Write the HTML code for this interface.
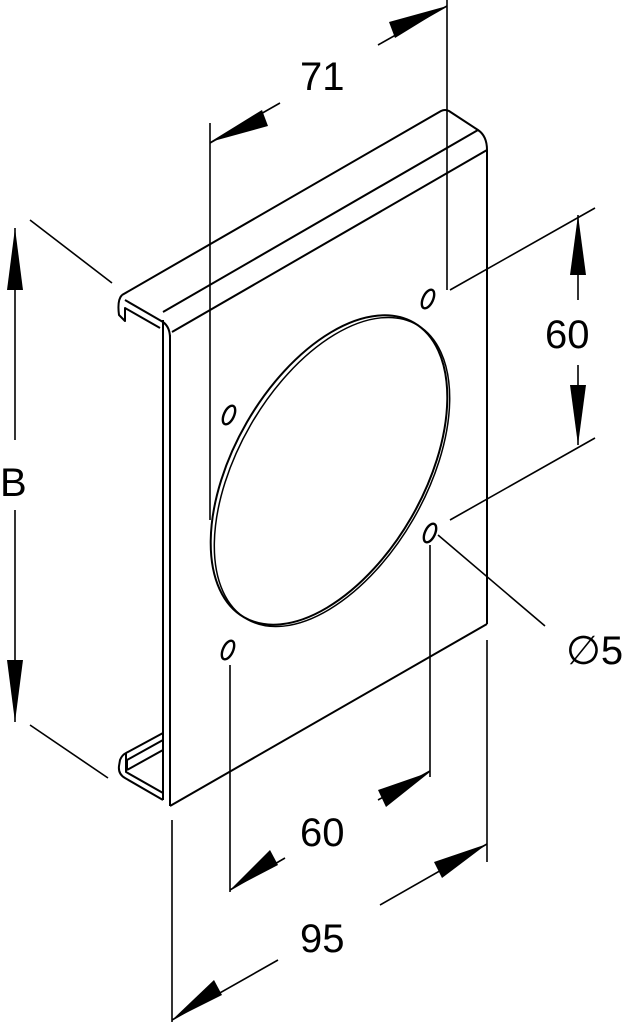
<!DOCTYPE html>
<html><head><meta charset="utf-8"><style>
html,body{margin:0;padding:0;background:#fff;}
svg{display:block}
text{font-family:"Liberation Sans",sans-serif;font-size:40px;fill:#000}
</style></head><body>
<svg width="638" height="1028" viewBox="0 0 638 1028" xmlns="http://www.w3.org/2000/svg">
<g fill="none" stroke="#000" stroke-width="2" stroke-linejoin="round">
<path d="M122,295 L441,111 Q445,109 449,111 L478,130 Q487,136 487,150"/>
<path d="M125,300 L163,322 Q170,327 170,338"/>
<path d="M163,312 L478,130"/>
<path d="M172,332 L487,150"/>
<path d="M122,295 Q117,300 119,315 L125,321 L125,308 L160,328"/>
<path d="M163,320 L163,800"/>
<path d="M170,335 L170,806"/>
<path d="M487,150 L487,624"/>
<path d="M170,806 L487,624"/>
<path d="M163,800 L125,778 Q118,774 119,766 L120,760 Q122,755 126,753 L163,733"/>
<path d="M127,770 L127,760 L163,740"/>
<path d="M127,770 L163,750"/>
<path d="M126,753 L126,772 L163,793"/>
<ellipse cx="329" cy="470" rx="170" ry="95" transform="rotate(-60 329 470)"/>
<ellipse cx="332" cy="472" rx="170" ry="94" transform="rotate(-60 332 472)" stroke-width="1.5"/>
<ellipse cx="229" cy="415" rx="5" ry="10" transform="rotate(25 229 415)" stroke-width="2.4"/>
<ellipse cx="428" cy="299" rx="5" ry="10" transform="rotate(25 428 299)" stroke-width="2.4"/>
<ellipse cx="430" cy="533" rx="5" ry="10" transform="rotate(25 430 533)" stroke-width="2.4"/>
<ellipse cx="228" cy="650" rx="5" ry="10" transform="rotate(25 228 650)" stroke-width="2.4"/>
</g>
<g fill="none" stroke="#000" stroke-width="1.6">
<line x1="210" y1="123" x2="210" y2="520"/>
<line x1="447" y1="0" x2="447" y2="290"/>
<line x1="210" y1="143" x2="280" y2="103"/>
<line x1="378" y1="45" x2="447" y2="6"/>
<line x1="30" y1="220" x2="112" y2="283"/>
<line x1="30" y1="725" x2="108" y2="778"/>
<line x1="15" y1="228" x2="15" y2="440"/>
<line x1="15" y1="510" x2="15" y2="722"/>
<line x1="450" y1="290" x2="595" y2="208"/>
<line x1="450" y1="520" x2="595" y2="438"/>
<line x1="578" y1="215" x2="578" y2="300"/>
<line x1="578" y1="365" x2="578" y2="445"/>
<line x1="438" y1="535" x2="545" y2="626"/>
<line x1="230" y1="665" x2="230" y2="892"/>
<line x1="430" y1="545" x2="430" y2="777"/>
<line x1="378" y1="800" x2="430" y2="771"/>
<line x1="230" y1="890" x2="285" y2="858"/>
<line x1="172" y1="820" x2="172" y2="1022"/>
<line x1="487" y1="640" x2="487" y2="862"/>
<line x1="380" y1="905" x2="487" y2="844"/>
<line x1="172" y1="1020" x2="278" y2="960"/>
</g>
<g fill="#000">
<polygon points="210,142 262,110 268,126"/>
<polygon points="447,6 395,38 389,22"/>
<polygon points="15,228 7,290 23,290"/>
<polygon points="15,722 7,660 23,660"/>
<polygon points="578,215 570,275 586,275"/>
<polygon points="578,445 570,385 586,385"/>
<polygon points="430,772 378,790 386,807"/>
<polygon points="230,890 278,865 270,850"/>
<polygon points="487,844 434,862 442,878"/>
<polygon points="172,1020 222,995 214,980"/>
</g>
<text x="300" y="90">71</text>
<text x="0" y="496">B</text>
<text x="545" y="348">60</text>
<text x="300" y="846">60</text>
<text x="300" y="952">95</text>
<text x="566" y="664">∅5</text>
</svg>
</body></html>
